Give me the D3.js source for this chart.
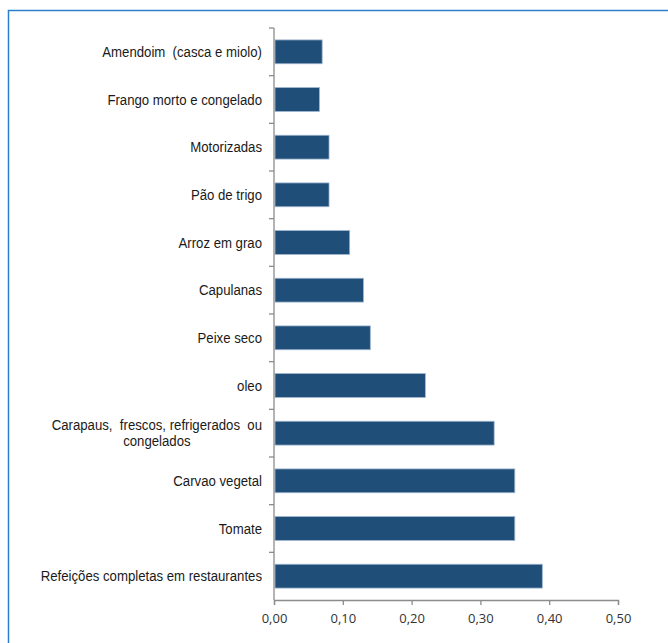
<!DOCTYPE html>
<html>
<head>
<meta charset="utf-8">
<script src="https://cdn.jsdelivr.net/npm/d3@7"></script>
<style>
  html, body { margin: 0; padding: 0; background: #fff; }
  svg { display: block; }
  .cat text { white-space: pre; }
</style>
</head>
<body>
<div id="chart"></div>
<script>
// Product categories, top to bottom
const categories = [
  "Amendoim  (casca e miolo)",
  "Frango morto e congelado",
  "Motorizadas",
  "Pão de trigo",
  "Arroz em grao",
  "Capulanas",
  "Peixe seco",
  "oleo",
  "Carapaus,  frescos, refrigerados  ou|congelados",
  "Carvao vegetal",
  "Tomate",
  "Refeições completas em restaurantes"
];
const values = [0.07, 0.066, 0.08, 0.08, 0.11, 0.13, 0.14, 0.22, 0.32, 0.35, 0.35, 0.39];
const tickValues = [0, 0.1, 0.2, 0.3, 0.4, 0.5];

const W = 668, H = 643;
const margin = { left: 274, right: 50, top: 28, bottom: 43 };

const svg = d3.select("#chart").append("svg")
  .attr("width", W).attr("height", H);

// outer frame
svg.append("path")
  .attr("d", `M8.5,${H + 2} L8.5,10.5 L${W + 2},10.5`)
  .attr("fill", "none")
  .attr("stroke", "#2b7fcc")
  .attr("stroke-width", 1.5);

const x = d3.scaleLinear().domain([0, 0.5]).range([margin.left, W - margin.right]);
const y = d3.scaleBand().domain(d3.range(categories.length))
  .range([margin.top, H - margin.bottom]).paddingInner(0.5).paddingOuter(0.25);

const axisColor = "#8c8c8c";

// bars
svg.append("g").selectAll("rect").data(values).join("rect")
  .attr("x", x(0) + 1)
  .attr("y", (d, i) => y(i))
  .attr("width", d => x(d) - x(0) - 1)
  .attr("height", y.bandwidth())
  .attr("fill", "#1f4e78")
  .attr("stroke", "#9fb6cf")
  .attr("stroke-width", 0.8);

// x axis
const xAxis = d3.axisBottom(x).tickValues(tickValues).tickSize(5)
  .tickFormat(d => d3.format(".2f")(d).replace(".", ","));
const gx = svg.append("g")
  .attr("transform", `translate(0,${H - margin.bottom})`)
  .call(xAxis);
gx.select(".domain").attr("stroke", axisColor).attr("stroke-width", 1.3);
gx.selectAll(".tick line").attr("stroke", axisColor).attr("stroke-width", 1.3);
gx.selectAll(".tick text")
  .attr("fill", "#333")
  .attr("font-family", "'Open Sans', 'Noto Sans', sans-serif")
  .attr("font-size", 13)
  .attr("y", 14)
  .attr("dy", "0.71em");

// y axis line with ticks at band boundaries
const step = y.step();
const y0 = margin.top, y1 = H - margin.bottom;
svg.append("line")
  .attr("x1", x(0)).attr("x2", x(0))
  .attr("y1", y0).attr("y2", y1)
  .attr("stroke", axisColor).attr("stroke-width", 1.3);
svg.append("g").selectAll("line").data(d3.range(categories.length)).join("line")
  .attr("x1", x(0) - 5).attr("x2", x(0))
  .attr("y1", i => y0 + i * step).attr("y2", i => y0 + i * step)
  .attr("stroke", axisColor).attr("stroke-width", 1.3);

// category labels, horizontally condensed
const labelFont = "'Liberation Sans', Arial, sans-serif";
const labelRight = x(0) - 12;
const squeeze = 0.88;
const lg = svg.append("g")
  .attr("class", "cat")
  .attr("transform", `translate(${labelRight},0) scale(${squeeze},1)`)
  .attr("font-family", labelFont)
  .attr("font-size", 15)
  .attr("fill", "#1a1a1a");

categories.forEach((c, i) => {
  const lines = c.split("|");
  const cy = y(i) + y.bandwidth() / 2;
  const lh = 16;
  if (lines.length === 1) {
    lg.append("text")
      .attr("x", 0).attr("y", cy)
      .attr("dy", "0.35em")
      .attr("text-anchor", "end")
      .text(c);
  } else {
    // wrapped label: lines centred on each other, block right-aligned
    const t = lg.append("text").attr("text-anchor", "middle");
    const spans = lines.map((ln, k) => t.append("tspan")
      .attr("y", cy + (k - (lines.length - 1) / 2) * lh)
      .attr("dy", "0.35em")
      .text(ln));
    const widest = d3.max(spans, s => s.node().getComputedTextLength());
    spans.forEach(s => s.attr("x", -widest / 2));
  }
});
</script>
</body>
</html>
